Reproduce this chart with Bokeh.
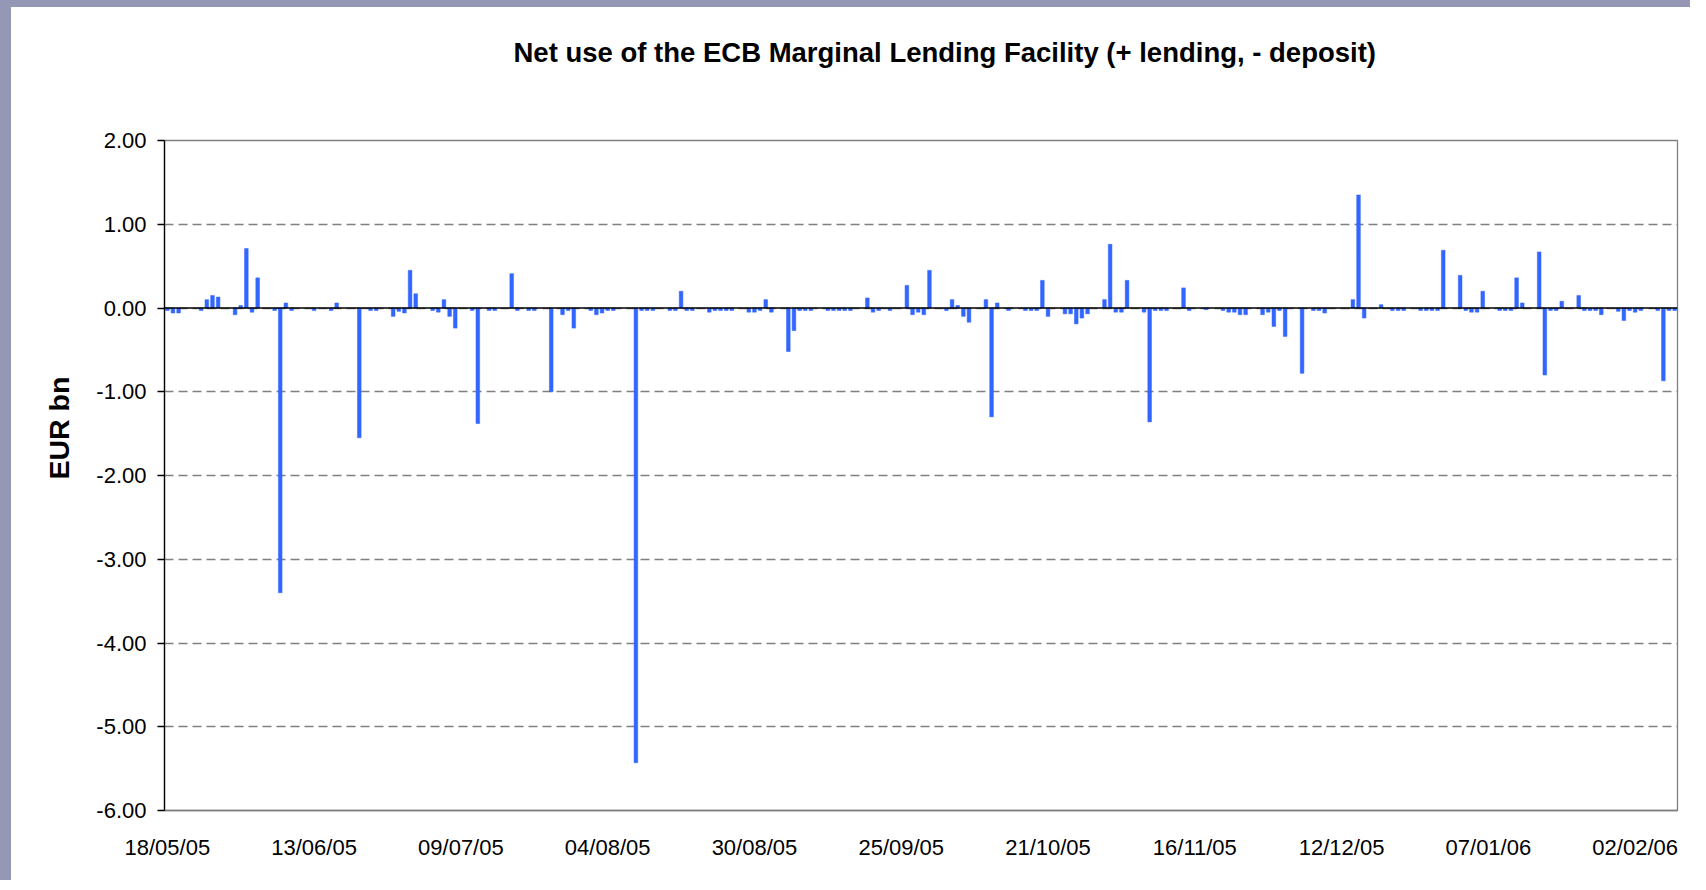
import pandas as pd
from bokeh.plotting import figure
from bokeh.models import (Range1d, FixedTicker, DatetimeTickFormatter,
                          NumeralTickFormatter, Span, Title)
from bokeh.embed import file_html
from bokeh.resources import INLINE

title_text = "Net use of the ECB Marginal Lending Facility (+ lending, - deposit)"
y_label = "EUR bn"

dates = [
    "2005-05-18", "2005-05-19", "2005-05-20", "2005-05-24", "2005-05-25", "2005-05-26",
    "2005-05-27", "2005-05-30", "2005-05-31", "2005-06-01", "2005-06-02", "2005-06-03",
    "2005-06-06", "2005-06-07", "2005-06-08", "2005-06-09", "2005-06-13", "2005-06-16",
    "2005-06-17", "2005-06-21", "2005-06-23", "2005-06-24", "2005-06-27", "2005-06-28",
    "2005-06-29", "2005-06-30", "2005-07-01", "2005-07-04", "2005-07-05", "2005-07-06",
    "2005-07-07", "2005-07-08", "2005-07-11", "2005-07-12", "2005-07-14", "2005-07-15",
    "2005-07-18", "2005-07-19", "2005-07-21", "2005-07-22", "2005-07-25", "2005-07-27",
    "2005-07-28", "2005-07-29", "2005-08-01", "2005-08-02", "2005-08-03", "2005-08-04",
    "2005-08-05", "2005-08-09", "2005-08-10", "2005-08-11", "2005-08-12", "2005-08-15",
    "2005-08-16", "2005-08-17", "2005-08-18", "2005-08-19", "2005-08-22", "2005-08-23",
    "2005-08-24", "2005-08-25", "2005-08-26", "2005-08-29", "2005-08-30", "2005-08-31",
    "2005-09-01", "2005-09-02", "2005-09-05", "2005-09-06", "2005-09-07", "2005-09-08",
    "2005-09-09", "2005-09-12", "2005-09-13", "2005-09-14", "2005-09-15", "2005-09-16",
    "2005-09-19", "2005-09-20", "2005-09-21", "2005-09-23", "2005-09-26", "2005-09-27",
    "2005-09-28", "2005-09-29", "2005-09-30", "2005-10-03", "2005-10-04", "2005-10-05",
    "2005-10-06", "2005-10-07", "2005-10-10", "2005-10-11", "2005-10-12", "2005-10-14",
    "2005-10-17", "2005-10-18", "2005-10-19", "2005-10-20", "2005-10-21", "2005-10-24",
    "2005-10-25", "2005-10-26", "2005-10-27", "2005-10-28", "2005-10-31", "2005-11-01",
    "2005-11-02", "2005-11-03", "2005-11-04", "2005-11-07", "2005-11-08", "2005-11-09",
    "2005-11-10", "2005-11-11", "2005-11-14", "2005-11-15", "2005-11-18", "2005-11-21",
    "2005-11-22", "2005-11-23", "2005-11-24", "2005-11-25", "2005-11-28", "2005-11-29",
    "2005-11-30", "2005-12-01", "2005-12-02", "2005-12-05", "2005-12-07", "2005-12-08",
    "2005-12-09", "2005-12-14", "2005-12-15", "2005-12-16", "2005-12-19", "2005-12-21",
    "2005-12-22", "2005-12-23", "2005-12-26", "2005-12-27", "2005-12-28", "2005-12-29",
    "2005-12-30", "2006-01-02", "2006-01-03", "2006-01-04", "2006-01-05", "2006-01-06",
    "2006-01-09", "2006-01-10", "2006-01-11", "2006-01-12", "2006-01-13", "2006-01-16",
    "2006-01-17", "2006-01-18", "2006-01-19", "2006-01-20", "2006-01-23", "2006-01-24",
    "2006-01-25", "2006-01-26", "2006-01-27", "2006-01-30", "2006-01-31", "2006-02-01",
    "2006-02-02", "2006-02-03", "2006-02-06", "2006-02-07", "2006-02-08", "2006-02-09",
]

values = [
    -0.03, -0.06, -0.06, -0.03, 0.10, 0.15,
    0.13, -0.08, 0.03, 0.71, -0.05, 0.36,
    -0.03, -3.40, 0.06, -0.03, -0.03, -0.03,
    0.06, -1.55, -0.03, -0.03, -0.10, -0.04,
    -0.06, 0.45, 0.17, -0.03, -0.05, 0.10,
    -0.10, -0.24, -0.03, -1.38, -0.03, -0.03,
    0.41, -0.03, -0.03, -0.03, -1.00, -0.08,
    -0.03, -0.24, -0.03, -0.08, -0.06, -0.03,
    -0.03, -5.43, -0.03, -0.03, -0.03, -0.03,
    -0.03, 0.20, -0.03, -0.03, -0.05, -0.03,
    -0.03, -0.03, -0.03, -0.05, -0.05, -0.03,
    0.10, -0.05, -0.52, -0.27, -0.03, -0.03,
    -0.03, -0.03, -0.03, -0.03, -0.03, -0.03,
    0.12, -0.05, -0.03, -0.03, 0.27, -0.08,
    -0.05, -0.08, 0.45, -0.03, 0.10, 0.03,
    -0.10, -0.17, 0.10, -1.30, 0.06, -0.03,
    -0.03, -0.03, -0.03, 0.33, -0.10, -0.07,
    -0.07, -0.19, -0.12, -0.07, 0.10, 0.76,
    -0.05, -0.05, 0.33, -0.05, -1.36, -0.03,
    -0.03, -0.03, 0.24, -0.03, -0.02, -0.03,
    -0.05, -0.05, -0.08, -0.08, -0.08, -0.05,
    -0.22, -0.03, -0.34, -0.78, -0.03, -0.03,
    -0.06, 0.10, 1.35, -0.12, 0.04, -0.03,
    -0.03, -0.03, -0.03, -0.03, -0.03, -0.03,
    0.69, 0.39, -0.03, -0.05, -0.05, 0.20,
    -0.03, -0.03, -0.03, 0.36, 0.06, 0.67,
    -0.80, -0.03, -0.03, 0.08, 0.15, -0.03,
    -0.03, -0.03, -0.08, -0.04, -0.15, -0.03,
    -0.05, -0.03, -0.03, -0.87, -0.03, -0.03,
]

tick_labels = ["18/05/05", "13/06/05", "09/07/05", "04/08/05", "30/08/05", "25/09/05",
               "21/10/05", "16/11/05", "12/12/05", "07/01/06", "02/02/06"]
y_ticks = [-6, -5, -4, -3, -2, -1, 0, 1, 2]

FONT = "Liberation Sans"
DAY_MS = 86400000
SLIDE_BG = "#9498b4"

x = pd.to_datetime(dates)
tick_pos = pd.to_datetime(tick_labels, format="%d/%m/%y")
epoch = pd.Timestamp("1970-01-01")
ms = pd.Timedelta(milliseconds=1)
tick_ms = [float((t - epoch) / ms) for t in tick_pos]

x_start = x.min() - pd.Timedelta(hours=12)
x_end = x.max() + pd.Timedelta(hours=12)

p = figure(width=1690, height=880, x_axis_type="datetime", title=None,
           x_range=Range1d(x_start.to_pydatetime(), x_end.to_pydatetime()),
           y_range=Range1d(y_ticks[0], y_ticks[-1]),
           output_backend="svg", toolbar_location=None,
           min_border_left=153, min_border_right=24,
           min_border_bottom=77, min_border_top=133)

# slide background strip on the left and top edges
p.styles = {"margin-left": "11px", "margin-top": "7px",
            "box-shadow": f"-11px -7px 0 0 {SLIDE_BG}"}

# blank spacer panel between the frame and the title (first added = closest to frame)
p.add_layout(Title(text=" ", standoff=65, text_font=FONT, text_font_size="1px"), "above")
p.add_layout(Title(text=title_text, align="left", offset=349, standoff=10,
                   text_font=FONT, text_font_size="27.5px", text_font_style="bold",
                   text_color="black"), "above")

p.vbar(x=x, top=values, bottom=0, width=0.65 * DAY_MS,
       fill_color="#3366FF", line_color="#3366FF", line_width=0.5)

p.add_layout(Span(location=0, dimension="width", line_color="black", line_width=1.5))

p.background_fill_color = "white"
p.border_fill_color = "white"
p.outline_line_color = "#808080"
p.outline_line_width = 1.3

p.xgrid.visible = False
p.ygrid.ticker = FixedTicker(ticks=y_ticks)
p.ygrid.grid_line_color = "#808080"
p.ygrid.grid_line_dash = "9 5"
p.ygrid.grid_line_width = 1.3

fmt = "%d/%m/%y"
xa = p.below[0]
xa.ticker = FixedTicker(ticks=tick_ms)
xa.formatter = DatetimeTickFormatter(microseconds=fmt, milliseconds=fmt, seconds=fmt,
                                     minsec=fmt, minutes=fmt, hourmin=fmt, hours=fmt,
                                     days=fmt, months=fmt, years=fmt)
xa.axis_line_color = "#808080"
xa.axis_line_width = 1.3
xa.major_tick_line_color = None
xa.minor_tick_line_color = None
xa.major_label_standoff = 18
xa.major_label_text_font = FONT
xa.major_label_text_font_size = "22px"
xa.major_label_text_color = "black"

ya = p.left[0]
ya.ticker = FixedTicker(ticks=y_ticks)
ya.formatter = NumeralTickFormatter(format="0.00")
ya.axis_line_color = "black"
ya.axis_line_width = 1.3
ya.major_tick_line_color = "black"
ya.major_tick_line_width = 1.3
ya.major_tick_out = 7
ya.major_tick_in = 0
ya.minor_tick_line_color = None
ya.major_label_standoff = 11
ya.major_label_text_font = FONT
ya.major_label_text_font_size = "22px"
ya.major_label_text_color = "black"

p.add_layout(Title(text=y_label, align="left", offset=331, standoff=37,
                   text_font=FONT, text_font_size="28.5px", text_font_style="bold",
                   text_color="black"), "left")

open("out.html", "w").write(file_html(p, INLINE))
